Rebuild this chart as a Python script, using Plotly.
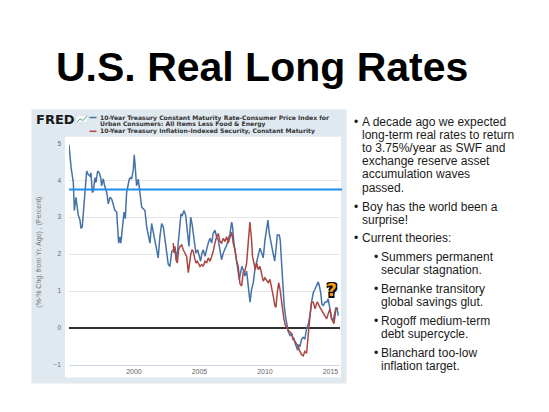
import plotly.graph_objects as go

W, H = 549, 412

# 10-Year Treasury minus core CPI (yoy)
blue_year = [1995.04, 1995.20, 1995.37, 1995.45, 1995.57, 1995.75, 1995.88, 1995.95,
             1996.05, 1996.18, 1996.26, 1996.39, 1996.50, 1996.64, 1996.72, 1996.82, 1996.90,
             1997.02, 1997.10, 1997.23, 1997.35, 1997.46, 1997.53, 1997.66, 1997.76, 1997.92,
             1998.04, 1998.17, 1998.30, 1998.42, 1998.55, 1998.68, 1998.76, 1998.83, 1998.93,
             1999.00, 1999.14, 1999.24, 1999.34, 1999.44, 1999.54, 1999.64, 1999.75, 1999.82, 1999.95,
             2000.02, 2000.10, 2000.20, 2000.33, 2000.46, 2000.59, 2000.71, 2000.84, 2000.97,
             2001.10, 2001.22, 2001.35, 2001.47, 2001.60, 2001.73, 2001.85, 2001.98,
             2002.11, 2002.24, 2002.37, 2002.50, 2002.62, 2002.75, 2002.88,
             2003.00, 2003.13, 2003.26, 2003.38, 2003.51, 2003.59, 2003.69, 2003.82, 2003.95,
             2004.02, 2004.12, 2004.20, 2004.33, 2004.43, 2004.53, 2004.63, 2004.73, 2004.86, 2004.98,
             2005.09, 2005.19, 2005.29, 2005.42, 2005.55, 2005.67, 2005.80, 2005.93,
             2006.05, 2006.18, 2006.31, 2006.44, 2006.56, 2006.69, 2006.82, 2006.95,
             2007.08, 2007.20, 2007.33, 2007.46, 2007.53, 2007.63, 2007.73, 2007.84, 2007.94,
             2008.04, 2008.14, 2008.24, 2008.34, 2008.47, 2008.60, 2008.73, 2008.86, 2008.98,
             2009.11, 2009.24, 2009.37, 2009.49, 2009.62, 2009.75, 2009.87,
             2010.00, 2010.13, 2010.23, 2010.33, 2010.44, 2010.53, 2010.63, 2010.74, 2010.84, 2010.94,
             2011.09, 2011.17, 2011.24, 2011.32, 2011.40, 2011.47, 2011.58, 2011.66, 2011.78, 2011.91,
             2012.04, 2012.13, 2012.21, 2012.31, 2012.42, 2012.50, 2012.58, 2012.67, 2012.80, 2012.92,
             2013.05, 2013.18, 2013.31, 2013.44, 2013.56, 2013.69, 2013.82, 2013.95,
             2014.07, 2014.15, 2014.26, 2014.35, 2014.45, 2014.58, 2014.71, 2014.83, 2014.96,
             2015.09, 2015.21, 2015.34, 2015.42, 2015.52, 2015.60]
blue_rate = [4.96, 4.34, 3.94, 3.18, 3.54, 3.05, 2.92, 2.70,
             2.74, 3.40, 3.76, 4.25, 4.16, 4.11, 4.20, 3.67, 3.71,
             4.07, 3.94, 4.25, 4.20, 4.07, 3.85, 4.04, 3.85, 3.67,
             3.36, 3.54, 3.49, 3.32, 3.18, 3.14, 2.52, 2.30, 2.47,
             2.30, 2.78, 3.14, 2.96, 3.67, 3.85, 4.03, 4.07, 4.03, 4.29,
             4.69, 4.34, 3.85, 4.03, 3.63, 3.27, 3.23, 3.18, 2.74,
             2.52, 2.30, 2.83, 2.60, 2.38, 2.12, 1.90, 2.47,
             2.83, 2.74, 2.38, 2.12, 1.72, 1.67, 2.07,
             2.12, 2.16, 1.85, 2.30, 2.74, 3.09, 3.05, 3.18, 3.05,
             2.78, 2.38, 2.21, 3.00, 2.83, 2.56, 2.21, 2.03, 2.12, 1.94,
             1.81, 2.03, 2.12, 1.94, 2.16, 2.30, 2.43, 2.30,
             2.56, 2.65, 2.47, 2.38, 2.12, 1.85, 2.03, 2.12,
             2.25, 2.38, 2.56, 2.87, 2.74, 2.30, 2.03, 1.72, 1.58,
             1.32, 1.50, 1.67, 1.58, 1.41, 1.54, 1.14, 0.70, 1.05,
             1.23, 1.60, 1.80, 2.05, 2.16, 2.03, 1.90,
             2.38, 2.65, 2.92, 2.56, 2.38, 2.21, 2.03, 1.81, 2.12, 2.52,
             2.52, 2.38, 1.94, 1.50, 0.96, 0.61, 0.30, 0.08, -0.10, -0.20,
             -0.15, -0.30, -0.28, -0.42, -0.55, -0.60, -0.45, -0.50, -0.30, -0.25,
             -0.30, 0.00, 0.10, 0.35, 0.70, 0.96, 1.05, 1.15,
             1.25, 1.15, 0.95, 0.65, 0.61, 0.70, 0.70, 0.79, 0.55,
             0.25, 0.21, 0.40, 0.56, 0.50, 0.34]

# 10-Year TIPS, constant maturity
red_year = [2003.00, 2003.05, 2003.13, 2003.21, 2003.31, 2003.41, 2003.51, 2003.64, 2003.76, 2003.89,
            2004.02, 2004.15, 2004.22, 2004.33, 2004.43, 2004.53, 2004.63, 2004.73, 2004.83, 2004.94,
            2005.04, 2005.17, 2005.29, 2005.42, 2005.55, 2005.67, 2005.80, 2005.93,
            2006.05, 2006.18, 2006.31, 2006.44, 2006.56, 2006.69, 2006.82, 2006.95,
            2007.08, 2007.20, 2007.33, 2007.46, 2007.58, 2007.71, 2007.84, 2007.96,
            2008.09, 2008.22, 2008.34, 2008.47, 2008.60, 2008.72, 2008.85, 2008.98,
            2009.05, 2009.16, 2009.26, 2009.37, 2009.49, 2009.62, 2009.75, 2009.87,
            2010.00, 2010.13, 2010.25, 2010.38, 2010.50, 2010.63, 2010.76, 2010.84, 2010.94,
            2011.05, 2011.15, 2011.24, 2011.32, 2011.45, 2011.55, 2011.66, 2011.78, 2011.91,
            2012.04, 2012.15, 2012.29, 2012.42, 2012.54, 2012.67, 2012.80, 2012.92,
            2013.05, 2013.18, 2013.31, 2013.44, 2013.56, 2013.69, 2013.83, 2013.98,
            2014.20, 2014.40, 2014.58, 2014.71, 2014.83, 2014.96,
            2015.09, 2015.27, 2015.42, 2015.60]
red_rate = [2.30, 2.03, 2.21, 1.85, 1.76, 2.12, 2.21, 2.25, 2.12, 2.03,
            1.94, 1.50, 1.72, 1.98, 2.12, 2.07, 1.90, 1.76, 1.81, 1.72,
            1.67, 1.72, 1.67, 1.81, 1.76, 1.90, 1.81, 1.94,
            2.07, 2.30, 2.47, 2.56, 2.34, 2.30, 2.43, 2.34,
            2.47, 2.30, 2.47, 2.60, 2.30, 2.12, 1.81, 1.67,
            1.20, 1.14, 1.50, 1.54, 1.76, 2.38, 2.87, 2.38,
            1.94, 1.76, 1.58, 1.76, 1.58, 1.67, 1.50, 1.27,
            1.36, 1.27, 1.23, 1.32, 1.14, 0.87, 0.61, 0.56, 0.96,
            1.23, 1.05, 0.79, 0.52, 0.25, 0.08, 0.03, -0.06, -0.10,
            -0.15, -0.28, -0.37, -0.46, -0.50, -0.63, -0.72, -0.75,
            -0.63, -0.68, -0.10, 0.34, 0.70, 0.70, 0.52, 0.71,
            0.56, 0.43, 0.34, 0.25, 0.39, 0.52,
            0.25, 0.12, 0.52, 0.54]

x_ticks = [2000, 2005, 2010, 2015]
y_ticks = [-1, 0, 1, 2, 3, 4, 5]
expected_rate = 3.75

title_text = "U.S. Real Long Rates"
legend_blue = ["10-Year Treasury Constant Maturity Rate-Consumer Price Index for",
               "Urban Consumers: All Items Less Food & Energy"]
legend_red = "10-Year Treasury Inflation-Indexed Security, Constant Maturity"
y_title = "(%-% Chg. from Yr. Ago) , (Percent)"

bullets_main = [
    ["A decade ago we expected", "long-term real rates to return", "to 3.75%/year as SWF and",
     "exchange reserve asset", "accumulation waves", "passed."],
    ["Boy has the world been a", "surprise!"],
    ["Current theories:"],
]
bullets_sub = [
    ["Summers permanent", "secular stagnation."],
    ["Bernanke transitory", "global savings glut."],
    ["Rogoff medium-term", "debt supercycle."],
    ["Blanchard too-low", "inflation target."],
]

BLUE = "#4572a7"
RED = "#aa4643"
PANEL = "#e1e9f0"


def px(x):
    return x / W


def py(y):
    return 1 - y / H


fig = go.Figure()
fig.add_trace(go.Scatter(x=blue_year, y=blue_rate, mode="lines",
                         line=dict(color=BLUE, width=1.5), hoverinfo="skip"))
fig.add_trace(go.Scatter(x=red_year, y=red_rate, mode="lines",
                         line=dict(color=RED, width=1.5), hoverinfo="skip"))

shapes = [
    # grey FRED panel and white plot card
    dict(type="rect", xref="paper", yref="paper", x0=px(31.5), x1=px(346.5), y0=py(386), y1=py(107),
         fillcolor=PANEL, line=dict(width=0), layer="below"),
    dict(type="rect", xref="paper", yref="paper", x0=px(65), x1=px(341), y0=py(380), y1=py(135),
         fillcolor="white", line=dict(width=0), layer="below"),
    # expected real rate line
    dict(type="line", xref="paper", yref="y", x0=px(69), x1=px(342), y0=expected_rate, y1=expected_rate,
         line=dict(color="#1e8ef0", width=1.8)),
    # legend swatches
    dict(type="line", xref="paper", yref="paper", x0=px(89.5), x1=px(96.5), y0=py(115.5), y1=py(115.5),
         line=dict(color=BLUE, width=1.5)),
    dict(type="line", xref="paper", yref="paper", x0=px(89.5), x1=px(96.5), y0=py(129.5), y1=py(129.5),
         line=dict(color=RED, width=1.5)),
    # small FRED chart icon
    dict(type="rect", xref="paper", yref="paper", x0=px(76), x1=px(88), y0=py(121), y1=py(113),
         fillcolor="#f4f7fa", line=dict(color="#c9d3dd", width=0.6)),
    dict(type="path", xref="paper", yref="paper",
         path=f"M{px(77)},{py(120)} L{px(80)},{py(117)} L{px(83)},{py(118.5)} L{px(87)},{py(114)}",
         line=dict(color="#5aa06a", width=0.9)),
]

legend_font = dict(family="DejaVu Sans", size=6.1, color="#333")
ann = [
    dict(text=f"<b>{title_text}</b>", x=px(262), y=py(64.5), xanchor="center", yanchor="middle",
         font=dict(family="Liberation Sans, Arial", size=41, color="black")),
    dict(text="<b>FRED</b>", x=px(33.5), y=py(117.5), xanchor="left", yanchor="middle",
         font=dict(family="DejaVu Sans", size=13, color="#1a1a1a")),
    dict(text=f"<b>{legend_blue[0]}</b>", x=px(98.5), y=py(115.5), xanchor="left", yanchor="middle",
         font=legend_font, borderpad=0),
    dict(text=f"<b>{legend_blue[1]}</b>", x=px(98.5), y=py(122.5), xanchor="left", yanchor="middle",
         font=legend_font, borderpad=0),
    dict(text=f"<b>{legend_red}</b>", x=px(98.5), y=py(129.5), xanchor="left", yanchor="middle",
         font=legend_font, borderpad=0),
    dict(text=y_title, x=px(39), y=py(253), xanchor="center", yanchor="middle", textangle=-90,
         font=dict(family="Liberation Sans, Arial", size=7, color="#777")),
    dict(text="<b>?</b>", x=px(331.5), y=py(291), xanchor="center", yanchor="middle",
         font=dict(family="DejaVu Sans", size=17, color="#f7a21b",
                   shadow="1.5px 1.5px 0 #000, -1.5px -1.5px 0 #000, 1.5px -1.5px 0 #000, -1.5px 1.5px 0 #000")),
]

text_font = dict(family="Liberation Sans, Arial", size=12, color="#1a1a1a")
main_y = [[120, 133.4, 146.8, 160, 173.4, 186.8], [206.8, 220], [238]]
for lines, ys in zip(bullets_main, main_y):
    ann.append(dict(text="•", x=px(351.5), y=py(ys[0]), xanchor="left", yanchor="middle", font=text_font))
    for line, yy in zip(lines, ys):
        ann.append(dict(text=line, x=px(359.5), y=py(yy), xanchor="left", yanchor="middle", font=text_font))
sub_y = [[257, 270.4], [289.5, 302.9], [322, 335.4], [355, 368.4]]
for lines, ys in zip(bullets_sub, sub_y):
    ann.append(dict(text="•", x=px(371.5), y=py(ys[0]), xanchor="left", yanchor="middle", font=text_font))
    for line, yy in zip(lines, ys):
        ann.append(dict(text=line, x=px(379), y=py(yy), xanchor="left", yanchor="middle", font=text_font))

for a in ann:
    a.update(xref="paper", yref="paper", showarrow=False)

fig.update_layout(
    width=W, height=H,
    margin=dict(l=0, r=0, t=0, b=0),
    paper_bgcolor="white",
    plot_bgcolor="rgba(0,0,0,0)",
    showlegend=False,
    shapes=shapes,
    annotations=ann,
    xaxis=dict(domain=[px(69), px(340)], range=[1995.04, 2015.73], tickvals=x_ticks,
               ticktext=[str(t) for t in x_ticks], showgrid=False, zeroline=False,
               showline=True, linecolor="#ccd6eb", linewidth=1, ticks="",
               tickfont=dict(family="Liberation Sans, Arial", size=7, color="#666")),
    yaxis=dict(domain=[py(367.3), py(141.7)], range=[-1, 5], tickvals=y_ticks,
               showgrid=True, gridcolor="#e6e6e6", gridwidth=1,
               zeroline=True, zerolinecolor="#333", zerolinewidth=1.5,
               ticks="", ticklabelstandoff=7,
               tickfont=dict(family="Liberation Sans, Arial", size=6.5, color="#666")),
)

fig.write_html("out.html", config={"displayModeBar": False},
               post_script="document.body.style.margin='0';")
